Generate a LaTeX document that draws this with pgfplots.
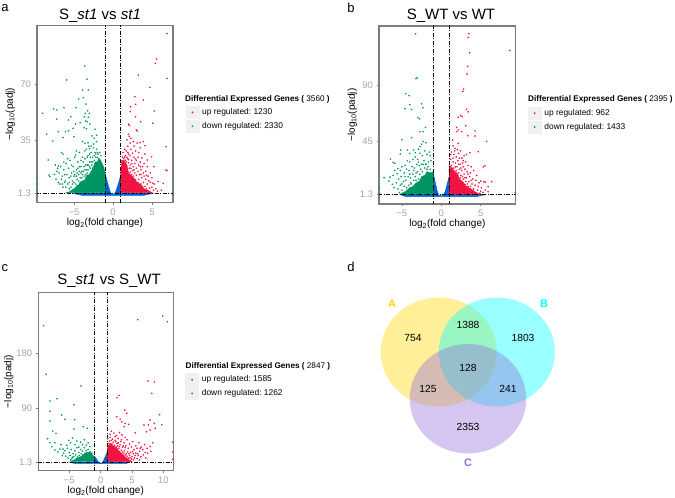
\documentclass[border=0pt]{standalone}
\usepackage{fontspec}
\setmainfont{Liberation Sans}
\usepackage{pgfplots}
\pgfplotsset{compat=1.18}

\definecolor{vred}{RGB}{240,20,65}
\definecolor{vgreen}{RGB}{0,150,100}
\definecolor{vblue}{RGB}{0,100,210}
\definecolor{frame}{RGB}{125,125,125}
\definecolor{ticktxt}{RGB}{165,165,165}
\definecolor{vennA}{RGB}{255,215,0}
\definecolor{vennB}{RGB}{0,255,255}
\definecolor{vennC}{RGB}{147,112,219}

\newcommand{\fs}[1]{\fontsize{#1}{#1}\selectfont}

\pgfplotsset{
  vol/.style={
    scale only axis,
    anchor=south west,
    axis line style={draw=frame,line width=1.1pt},
    tick style={draw=frame,line width=.6pt},
    tick align=outside,
    tick pos=left,
    major tick length=2.5pt,
    tick label style={font=\fs{9.5},text=ticktxt},
    xlabel={log\textsubscript{2}(fold change)},
    ylabel={−log\textsubscript{10}(padj)},
    label style={font=\fs{10}},
    xlabel style={yshift=4pt},
    ylabel style={yshift=-4pt},
    legend style={draw=none,fill=none,anchor=north west,inner sep=0pt,outer sep=0pt,
      font=\fs{8.4},row sep=1pt,column sep=1pt,cells={anchor=west}},
  },
  pts/.style={
    only marks,mark=*,mark size=.7pt,
    mark options={draw=#1,fill=#1,line width=.2pt},
    legend image code/.code={
      \fill[black!6] (0pt,-6.2pt) rectangle (13pt,6.2pt);
      \fill[#1] (6.5pt,0pt) circle (.7pt);
    },
  },
  core/.style={no marks,sharp plot,fill=#1,draw=#1,line width=.4pt,forget plot},
  thr/.style={no marks,sharp plot,black,line width=.7pt,
    dash pattern=on 4pt off 1.5pt on 1pt off 1.5pt,forget plot},
  venn/.style={only marks,mark=*,mark options={xscale=1.065,draw opacity=0,fill=#1,fill opacity=.4}},
}

\begin{document}
\begin{tikzpicture}
\path[use as bounding box] (0pt,0pt) rectangle (675pt,498pt);

% ---------- a ----------
\begin{axis}[vol,at={(37pt,295.3pt)},width=136pt,height=177pt,
  xmin=-9.74,xmax=7.7,ymin=-4.85,ymax=107.4,
  xtick={-5,0,5},xticklabels={−5,0,5},
  ytick={1.3,35,70},yticklabels={1.3,35,70},
  legend style={at={(1.094,.546)}}]
\addplot[core=vblue] coordinates {(-5.2,1.3)(-1,1.3)(-1,13.8)(-.7,8)(-.35,2.2)(-.1,.3)(.1,.3)(.35,2.2)(.7,7.5)(1,12.7)(1,1.3)(5.2,1.3)(4,-.2)(-4,-.2)} -- cycle;
\addplot[core=vgreen] coordinates {(-1,1.5)(-1,14)(-1.2,18)(-1.5,21)(-1.8,23)(-2,21)(-2.3,21)(-2.5,17)(-2.8,15)(-3,13)(-3.4,12)(-3.7,9)(-4,9)(-4.5,6)(-5,4)(-5.6,2)(-6,1.5)} -- cycle;
\addplot[core=vred] coordinates {(1,1.5)(1,13)(1.1,22)(1.4,22)(1.8,19)(2,14)(2.4,12)(2.8,10)(3.1,8)(3.5,7)(4,4)(4.5,3)(5,1.5)} -- cycle;
\addplot[pts=vred] coordinates {
(6.92,102.4)(5.6,86.3)(5.43,83.5)(6.92,74)(3.25,76.1)(4.74,68.3)(2.82,62.4)(3.89,60.3)(2.26,56)(2.9,57.5)(5.3,53.3)(2.22,52.9)(2.9,49.7)(3.55,46.5)(5.1,45.5)(2,45)(2.1,44.2)(3,41.3)(3.1,40.6)(1.98,38.5)(2.1,37.2)(6.8,30.7)(6.8,15.9)(6.92,15.5)(5.26,18)(4.96,24.3)(4.4,22.2)(5.8,8.5)(6.45,7.4)(3.9,33.9)(4.1,31.3)(3.46,33.2)(2.3,36)(2.6,34)(1.8,35)(3.1,33)(2.2,33)(2.7,31)(1.9,31)(3.5,30)(1.5,29)(2.3,29)(2.9,28)(1.3,27)(1.9,27)(2.5,26.5)(3.3,27)(4.1,26)(1.6,25)(2.2,25)(2.7,24)(3.2,24)(3.7,23.5)(1.2,24)(1.9,23)(2.4,22)(3,22)(3.5,21)(4,20)(1.7,21)(2.8,20)(3.3,19)(3.8,18)(4.4,18)(2.2,19)(2.6,18)(3,17)(3.6,16)(4.2,15)(4.8,14)(2.1,17)(2.5,15.5)(3.2,15)(3.9,14)(4.5,12)(5,11)(2.8,14)(3.4,13)(2.4,13)(3,12.5)(3.7,11)(4.2,10)(4.8,8)(5.3,7)(3.3,10)(2.9,9.5)(3.9,8)(4.4,7)(5,5)(5.5,4)(3.6,7)(3.2,8)(4.1,5.5)(4.7,4.5)(5.2,3)(5.7,2.5)(6.2,3)(4.3,4)(3.8,5)(2.6,12)(2.2,14.5)(1.6,22)(1.4,23)(2,20.5)
(3.5,18)(2.9,23)(2.4,20)(2,26)(1.7,28)(4.6,9)(5.1,7.5)(4,12)(4.3,12.5)(3.6,13)(1.5,24)(1.8,24)(2,22.5)(2.3,17)(2.7,16)
};
\addlegendentry{up regulated:\ 1230}
\addplot[pts=vgreen] coordinates {
(-3.63,81.9)(-3.33,73.4)(-5.94,73)(-3.89,66.6)(-3.16,66.6)(-4.4,60.9)(-3.8,61.8)(-3.46,57.7)(-9,51.8)(-7.6,54.6)(-7.2,54)(-6.28,55.4)(-4.74,55.4)(-3.25,53.5)(-3.55,51.8)(-3.03,51.8)(-3.68,49.7)(-3.16,49.3)(-7.2,48.2)(-5.4,49.7)(-5.7,47.6)(-4.2,45.9)(-4.8,45)(-3.5,47)(-3.3,46.5)(-2.95,45)(-5.7,40.8)(-6.07,40.2)(-7,40.2)(-5.1,42.3)(-3.7,42.7)(-3.4,42.1)(-2.3,41.7)(-8.5,38.5)(-6.4,36.4)(-7.7,34.3)(-5,37)(-2.1,38)(-2.7,37.5)(-2.4,36)(-3.9,33.9)(-3.6,32.8)(-3.2,33.2)(-2.5,32.4)(-2.1,33.9)(-3,29.5)(-8.3,22.2)(-6.6,26.9)(-6.4,26)(-4.8,25.3)(-7.4,19)(-7,18.5)(-8.2,12.7)(-8.1,11.7)(-7.2,15)(-9.7,3)(-9.7,7)(-9.7,11)
(-7.1,17)(-6.9,14)(-6.7,18)(-6.5,12)(-6.3,16)(-6.1,9)(-6,20)(-5.9,13)(-5.8,7)(-5.7,17)(-5.6,11)(-5.5,22)(-5.4,5)(-5.3,14)(-5.2,9)(-5.1,18)(-5,12)(-4.9,24)(-4.8,7)(-4.7,16)(-4.6,10)(-4.5,21)(-4.4,13)(-4.3,27)(-4.2,8)(-4.1,18)(-4,11)(-3.9,24)(-3.8,15)(-3.7,9)(-3.6,28)(-3.5,19)(-3.4,12)(-3.3,24)(-3.2,16)(-3.1,31)(-3,21)(-2.9,14)(-2.8,27)(-2.7,19)(-2.6,24)(-2.5,30)(-2.4,22)(-2.3,27)(-2.2,24)(-2.1,29)(-2,24)(-1.9,26)(-1.8,23)(-1.7,27)(-1.6,22)(-1.5,25)
(-6.8,7)(-6.4,5)(-6.2,8)(-5.6,4)(-5.2,7)(-4.9,13)(-4.6,6)(-4.3,15)(-4,15)(-3.8,21)(-3.5,13)(-3.2,12.5)(-3,18)(-4.5,17)(-5.3,19)(-5.8,23)(-6.3,21)(-3.6,23)(-4.1,22)(-4.7,28)(-3.4,29)(-2.9,24)(-2.6,17)(-2.8,31)(-3.3,19)(-5.05,15)(-7.5,13)(-6.6,10)(-4.4,9)(-3.95,7)(-4.7,4.5)(-5.6,8)(-6.05,5)
(-5,8)(-4.7,12)(-4.2,11)(-3.9,13)(-3.7,12)(-3.6,16)(-3.3,14)(-3.2,19)(-2.9,17)(-2.8,21)(-2.6,21)(-2.5,18)(-2.4,25)(-3.7,18)(-4.3,18)(-4.6,14)(-5.4,12)(-4.1,14)(-3.4,16)(-3,26)(-3.2,25)(-2.2,26)(-2,27)(-6.2,13)(-6.5,7)(-7,8)(-7.3,10)
};
\addlegendentry{down regulated:\ 2330}
\addplot[thr] coordinates {(-1,-5)(-1,108)};
\addplot[thr] coordinates {(1,-5)(1,108)};
\addplot[thr] coordinates {(-10,1.3)(8,1.3)};
\end{axis}

% ---------- b ----------
\begin{axis}[vol,at={(379pt,294pt)},width=136.7pt,height=178pt,
  xmin=-7.9,xmax=9.45,ymin=-6.3,ymax=138.6,
  xtick={-5,0,5},xticklabels={−5,0,5},
  ytick={1.3,45,90},yticklabels={1.3,45,90},
  legend style={at={(1.09,.546)}}]
\addplot[core=vblue] coordinates {(-5.2,1.3)(-1,1.3)(-1,18.6)(-.75,11)(-.5,4)(-.3,.8)(.3,.8)(.5,4)(.75,10)(1,16)(1,1.3)(5.6,1.3)(4.5,-.3)(-4.5,-.3)} -- cycle;
\addplot[core=vgreen] coordinates {(-1,1.5)(-1,20)(-1.4,19)(-1.8,20)(-2.1,17)(-2.5,16)(-2.8,12)(-3.2,11)(-3.6,8)(-4,7)(-4.5,4)(-5,2.5)(-5.2,1.5)} -- cycle;
\addplot[core=vred] coordinates {(1,1.5)(1,25)(1.4,23)(1.7,20)(2,19)(2.3,14)(2.7,12)(3.2,8)(3.8,6)(4.3,3.5)(5,1.5)} -- cycle;
\addplot[pts=vred] coordinates {
(3.5,132.3)(3.4,129.3)(8.7,118.7)(3.6,116.8)(3.35,105.7)(3.26,99.5)(2.84,87.3)(2.75,85.4)(3.2,70.7)(2.46,65.6)(2.16,64.2)(2.67,64.8)(3.43,68.8)(3.1,57.4)(1.95,56)(2.16,53.9)(1.95,52.6)(2.6,52.6)(3.35,49.3)(4.28,53.1)(4.28,49)(5.76,44.7)(1.44,45.8)(1.5,41)(2.16,43)(1.75,39)(2.05,38)(2.45,37)(4.7,36.3)(3.64,35.5)(3.2,34)(5.34,24)(5.55,24.8)(6.4,11.9)(5,12.4)(5.4,11.9)(5.6,11.4)(5.95,7.8)(5.95,3.7)(9.4,3)
(1.3,36)(1.6,34)(1.9,32)(2.2,35)(2.6,31)(2.9,33)(1.2,30)(1.5,28)(1.8,27)(2.1,29)(2.4,26)(2.7,27)(3.1,28)(3.4,25)(3.8,24)(1.3,25)(1.6,23)(2,24)(2.3,22)(2.6,21)(3,22)(3.3,20)(3.7,19)(4.1,21)(4.5,17)(1.2,22)(1.9,21)(2.2,19)(2.5,17)(2.9,18)(3.2,15)(3.6,16)(4,14)(4.4,13)(4.8,11)(2.8,14)(3.1,12)(3.5,12)(3.9,10)(4.3,9)(4.7,8)(5.1,7)(3.3,10)(3.7,8)(4.1,6)(4.6,5)(5,4)(5.3,3)(5.6,5)(2.4,15)(2.1,17)(3.4,8)(1.7,20)(3,9.5)(4.9,2.5)
(1.8,24)(1.5,31)(2.2,26)(2.5,23)(2.8,24)(2.7,16)(3,15)(3.4,18)(3.8,13)(1.2,34)(1.7,37)(2.3,31)(2.8,29)
};
\addlegendentry{up regulated:\ 962}
\addplot[pts=vgreen] coordinates {
(-3.26,132.3)(-3.05,96.5)(-3.2,95.7)(-4.5,83.5)(-4.07,81.9)(-3.98,74.5)(-4.58,71.3)(-3.77,70.7)(-2.5,75.3)(-2.33,72)(-2.97,64)(-2.75,63.1)(-2,56)(-3.77,47.7)(-5,46)(-2.7,52.6)(-2.3,52.6)(-2.3,44.5)(-1.95,43.7)(-2.5,42.4)(-2.7,40.5)(-2.9,38.3)(-4.28,37.6)(-5.13,37.6)(-3.5,37.6)(-4,34.8)(-5.2,34.3)(-3.3,35.5)(-6.44,30.3)(-6.1,27.6)(-5.9,26.8)(-7.25,15.1)(-6.65,12.4)(-6.2,9.7)(-5.9,21)(-5.5,22.4)(-5.2,21)(-5.6,18.3)(-6.1,17)(-6.5,15.6)(-7.85,3)(-7.85,7)
(-1.5,36)(-1.8,34)(-2.1,37)(-2.4,33)(-2.7,35)(-3,30)(-3.3,32)(-3.6,30)(-4,28)(-4.3,29)(-4.6,25)(-5,24)(-1.3,29)(-1.6,28)(-1.9,26)(-2.2,29)(-2.5,26)(-2.8,25)(-3.1,26)(-3.4,23)(-3.7,24)(-4.1,21)(-4.4,22)(-4.7,19)(-5.1,16)(-5.4,14)(-5.7,11)(-6,7)(-1.4,22)(-1.8,22)(-2.1,23)(-2.4,20)(-2.7,18)(-3,20)(-3.3,16)(-3.6,18)(-3.9,15)(-4.2,16)(-4.5,13)(-4.8,12)(-5.2,9)(-5.5,6)(-2.9,14)(-3.2,13)(-3.5,13)(-3.8,10)(-4.1,9)(-4.4,7)(-4.7,8)(-5,5)(-5.3,3)
(-3.9,11)(-1.7,24)(-2,26)(-2.6,22)(-3.2,19)(-3.5,21)(-4,18)(-4.6,16)(-5,10)(-1.4,33)(-2.3,26)(-2.9,28)
};
\addlegendentry{down regulated:\ 1433}
\addplot[thr] coordinates {(-1,-7)(-1,140)};
\addplot[thr] coordinates {(1,-7)(1,140)};
\addplot[thr] coordinates {(-8,1.3)(9.5,1.3)};
\end{axis}

% ---------- c ----------
\begin{axis}[vol,at={(38.3pt,27.3pt)},width=135pt,height=178.4pt,
  xmin=-9.95,xmax=11.58,ymin=-13,ymax=281.3,
  xtick={-5,0,5,10},xticklabels={−5,0,5,10},
  ytick={1.3,90,180},yticklabels={1.3,90,180},
  legend style={at={(1.09,.546)}}]
\addplot[core=vblue] coordinates {(-5,1.3)(-1,1.3)(-1,11)(-.7,7)(-.4,2)(-.2,-.5)(.2,-.5)(.4,3)(.7,10)(1,16)(1,1.3)(4.6,1.3)(4,-1.5)(-4,-1.5)} -- cycle;
\addplot[core=vgreen] coordinates {(-1,2)(-1,9)(-1.3,13)(-1.7,18)(-2.2,17)(-2.7,14)(-3.2,10)(-3.7,8)(-4.2,5)(-4.8,2.5)} -- cycle;
\addplot[core=vred] coordinates {(1,2)(1,18)(1.2,28)(1.6,32)(2,28)(2.5,25)(3,19)(3.5,14)(4,9)(4.5,5)(5,2)} -- cycle;
\addplot[pts=vred] coordinates {
(9.9,242.2)(10.64,232.9)(5.9,236.2)(7.55,135)(8.56,133.3)(8.14,114.6)(2.93,111.3)(2.6,107.5)(9.4,79.4)(3.83,87.1)(4.15,81.6)(2.55,76)(3.1,72)(3.35,67.8)(3.9,65)(4.45,63.4)(3.75,59.5)(9.73,62.9)(7.87,70.6)(8.56,65)(7.6,62.4)(6.9,62.4)(7.3,51.3)(8.7,56.9)(7.87,54)(5.5,49.5)(11.5,6)(11.5,18)(11.5,34)
(1.7,52)(2.1,49)(2.5,45)(3,50)(3.4,46)(3.9,42)(1.5,42)(1.9,39)(2.3,37)(2.8,40)(3.2,35)(3.7,33)(4.2,38)(4.6,31)(5.1,35)(5.6,28)(6.1,33)(6.5,26)(7,30)(7.4,24)(7.9,27)(8.3,33)(1.3,32)(1.8,31)(2.2,29)(2.6,32)(3,27)(3.5,26)(4,28)(4.4,24)(4.9,26)(5.3,22)(5.8,24)(6.2,19)(6.7,22)(7.1,17)(7.5,16)(8,19)(1.6,27)(2.5,26)(2.9,24)(3.3,21)(3.8,20)(4.3,18)(4.8,17)(5.2,15)(5.6,16)(6,12)(6.4,10)(6.8,13)(7.2,8)(4.1,15)(4.6,12)(5,10)(5.4,8)(5.8,7)(6.2,5)(3.7,16)(4.4,8)(4.9,6)
(1.4,36)(1.7,37)(2,34)(2.4,35)(2.8,33)(3.1,30)(3.3,38)(3.6,28)(3.9,25)(3.5,18)(3.9,13)(4.2,11)(4.5,15)(5.1,19)(5.5,12)(5.9,15)(6.3,24)(4.7,8)(5.2,5)(1.1,40)(1.5,47)(2.3,43)(2.7,28)
};
\addlegendentry{up regulated:\ 1585}
\addplot[pts=vgreen] coordinates {
(-9.1,226.3)(-8.72,146)(-3.14,126.7)(-6.97,105.8)(-8.09,102)(-8.09,84.9)(-4.26,95.9)(-6.22,78.9)(-8.09,69)(-4.15,71.2)(-5.7,71.7)(-2.77,59.6)(-2.13,56.9)(-4.26,55.8)(-7.66,52.4)(-7.13,48.6)(-8.46,39.8)(-8.1,33.2)(-7.3,33.2)(-7.8,26.6)(-7.3,21.1)(-6.5,22.7)(-6,22.7)(-6.8,18)
(-5.4,29)(-5.1,37)(-4.8,33)(-4.5,41)(-4.1,30)(-3.8,36)(-3.5,26)(-3.2,34)(-2.9,30)(-2.6,38)(-2.3,29)(-2,33)(-1.7,27)(-6.3,30)(-5.7,20)(-5.3,24)(-5,17)(-4.7,22)(-4.4,15)(-4.1,20)(-3.8,25)(-3.5,17)(-3.2,22)(-2.9,19)(-2.6,25)(-2.3,20)(-2,22)(-1.7,18)(-1.4,16)(-6.1,12)(-5.6,11)(-5.2,8)(-4.9,12)(-4.6,7)(-4.3,10)(-4,13)(-3.7,10)(-3.4,12)(-3.1,15)(-2.8,13)(-2.5,16)(-5.9,16)(-4.8,5)(-3.2,8)(-3.9,6)(-4.5,9)
};
\addlegendentry{down regulated:\ 1262}
\addplot[thr] coordinates {(-1,-14)(-1,282)};
\addplot[thr] coordinates {(1,-14)(1,282)};
\addplot[thr] coordinates {(-10,1.3)(12,1.3)};
\end{axis}

% ---------- d, axis units are image pixels ----------
\begin{axis}[at={(340pt,0pt)},anchor=south west,scale only axis,width=335pt,height=248pt,
  hide axis,clip=false,xmin=340,xmax=675,ymin=250,ymax=498,y dir=reverse]
\addplot[venn=vennA,mark size=54.5pt] coordinates {(438.7,352)};
\addplot[venn=vennB,mark size=54.5pt] coordinates {(496.7,352)};
\addplot[venn=vennC,mark size=54.7pt] coordinates {(468,398.7)};
\end{axis}

% titles, letters and Venn numbers, placed from the bottom left of the image
\node[font=\fs{10.3}] at (413pt,160pt) {754};
\node[font=\fs{10.3}] at (468pt,173pt) {1388};
\node[font=\fs{10.3}] at (523pt,160pt) {1803};
\node[font=\fs{10.3}] at (468pt,130pt) {128};
\node[font=\fs{10.3}] at (428pt,109pt) {125};
\node[font=\fs{10.3}] at (508pt,109pt) {241};
\node[font=\fs{10.3}] at (468pt,71pt) {2353};
\node[font=\fs{11}\bfseries,text=vennA] at (392pt,194pt) {A};
\node[font=\fs{11}\bfseries,text=vennB] at (544pt,194pt) {B};
\node[font=\fs{11}\bfseries,text=vennC] at (468pt,35pt) {C};
\node[font=\fs{15}] at (100pt,482pt) {S\_\textit{st1} vs \textit{st1}};
\node[font=\fs{15}] at (451pt,482pt) {S\_WT vs WT};
\node[font=\fs{15}] at (109pt,217pt) {S\_\textit{st1} vs S\_WT};
\node[font=\fs{13}] at (5pt,490pt) {a};
\node[font=\fs{13}] at (351pt,490pt) {b};
\node[font=\fs{13}] at (5pt,230pt) {c};
\node[font=\fs{13}] at (351pt,231pt) {d};
\node[font=\fs{8.2},anchor=west,inner sep=0pt] at (185pt,399pt) {\textbf{Differential Expressed Genes (} 3560 \textbf{)}};
\node[font=\fs{8.2},anchor=west,inner sep=0pt] at (528pt,399pt) {\textbf{Differential Expressed Genes (} 2395 \textbf{)}};
\node[font=\fs{8.2},anchor=west,inner sep=0pt] at (185.5pt,132pt) {\textbf{Differential Expressed Genes (} 2847 \textbf{)}};
\end{tikzpicture}
\end{document}
